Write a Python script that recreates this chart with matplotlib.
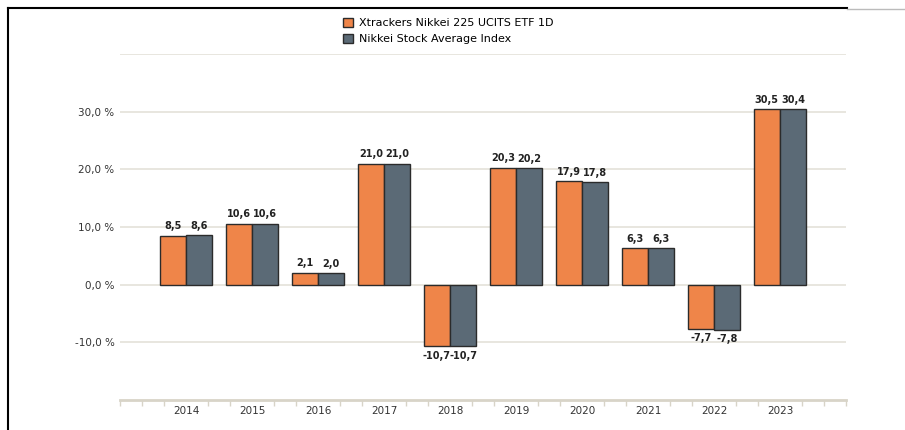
import numpy as np
import matplotlib.pyplot as plt
from matplotlib.lines import Line2D
from matplotlib.patches import Patch

years = ['2014', '2015', '2016', '2017', '2018', '2019', '2020', '2021', '2022', '2023']
etf = [8.5, 10.6, 2.1, 21.0, -10.7, 20.3, 17.9, 6.3, -7.7, 30.5]
index = [8.6, 10.6, 2.0, 21.0, -10.7, 20.2, 17.8, 6.3, -7.8, 30.4]
yticks = [-10, 0, 10, 20, 30]

c_etf = '#ef8549'
c_idx = '#5b6a76'
grid_c = '#e4e1d9'

fig = plt.figure(figsize=(9.05, 4.30), dpi=100)
ax = fig.add_axes([120/905, 1-400/430, 726/905, 346/430])

x = np.arange(1, len(years) + 1)
w = 0.4
b1 = ax.bar(x - w/2, etf, w, color=c_etf, edgecolor='#2b2b2b', linewidth=1, zorder=3)
b2 = ax.bar(x + w/2, index, w, color=c_idx, edgecolor='#2b2b2b', linewidth=1, zorder=3)

for bars, vals in ((b1, etf), (b2, index)):
    for r, v in zip(bars, vals):
        cx = r.get_x() + r.get_width()/2
        lab = f'{v:.1f}'.replace('.', ',')
        if v >= 0:
            ax.annotate(lab, (cx, v), xytext=(0, 3), textcoords='offset points',
                        ha='center', va='bottom', fontsize=7, fontweight='bold', color='#222222')
        else:
            ax.annotate(lab, (cx, v), xytext=(0, -3), textcoords='offset points',
                        ha='center', va='top', fontsize=7, fontweight='bold', color='#222222')

ax.set_xlim(0, 11)
ax.set_ylim(-20, 40)
for g in [-10, 0, 10, 20, 30, 40]:
    ax.axhline(g, color=grid_c, lw=1.2, zorder=1)

ax.set_yticks(yticks)
ax.set_yticklabels([f'{t:.1f} %'.replace('.', ',') for t in yticks], fontsize=7.5, color='#333333')
ax.tick_params(axis='y', length=0, pad=4)

ax.set_xticks(x)
ax.set_xticklabels(years, fontsize=7.5, color='#333333')
ax.tick_params(axis='x', length=0, pad=4)
ax.set_xticks(np.arange(0, 11.01, 1/3), minor=True)
ax.tick_params(axis='x', which='minor', length=4, color='#d8d4c8', width=1)

for s in ['top', 'right', 'left']:
    ax.spines[s].set_visible(False)
ax.spines['bottom'].set_color('#d8d4c8')
ax.spines['bottom'].set_linewidth(2)

handles = [Patch(facecolor=c_etf, edgecolor='#2b2b2b', label='Xtrackers Nikkei 225 UCITS ETF 1D'),
           Patch(facecolor=c_idx, edgecolor='#2b2b2b', label='Nikkei Stock Average Index')]
fig.legend(handles=handles, loc='upper left', bbox_to_anchor=(333/905, 1-8/430), frameon=False,
           fontsize=8, handlelength=0.9, handleheight=0.9, handletextpad=0.5, labelspacing=0.5)

# frame lines around the picture
fig.add_artist(Line2D([8/905, 847/905], [1-8/430, 1-8/430], color='black', lw=1.5))
fig.add_artist(Line2D([847/905, 1], [1-9/430, 1-9/430], color='#bbbbbb', lw=1))
fig.add_artist(Line2D([8/905, 8/905], [0, 1-8/430], color='black', lw=1.5))

fig.savefig('out.png', dpi=100)
